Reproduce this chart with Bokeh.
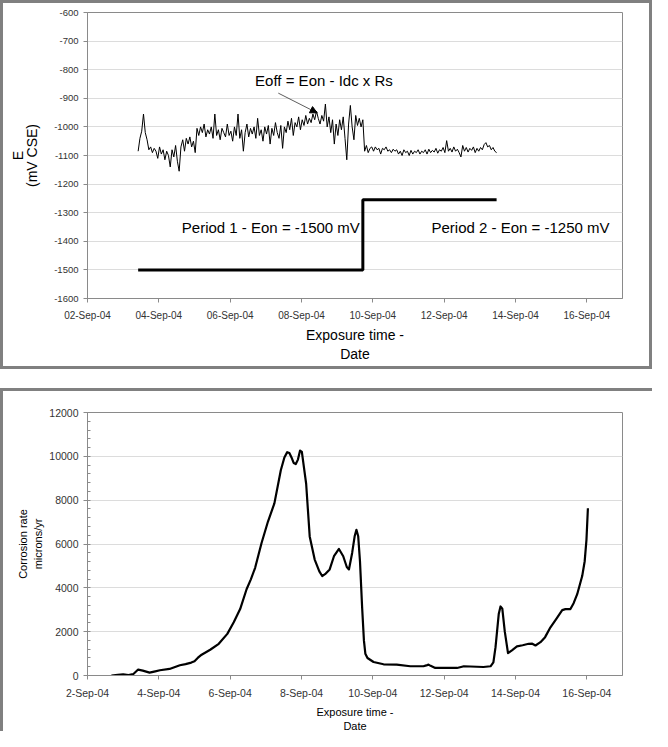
import numpy as np
from bokeh.plotting import figure
from bokeh.layouts import column
from bokeh.models import FixedTicker, Label, Arrow, NormalHead, LinearAxis
from bokeh.embed import file_html
from bokeh.resources import INLINE

FONT = "Liberation Sans"

# ---------------- data ----------------
# x values are days of September 2004
x_tick_days = [2, 4, 6, 8, 10, 12, 14, 16]
top_x_labels = ["02-Sep-04", "04-Sep-04", "06-Sep-04", "08-Sep-04",
                "10-Sep-04", "12-Sep-04", "14-Sep-04", "16-Sep-04"]
bottom_x_labels = ["2-Sep-04", "4-Sep-04", "6-Sep-04", "8-Sep-04",
                   "10-Sep-04", "12-Sep-04", "14-Sep-04", "16-Sep-04"]
top_y_ticks = [-1600, -1500, -1400, -1300, -1200, -1100, -1000, -900, -800, -700, -600]
bottom_y_ticks = [0, 2000, 4000, 6000, 8000, 10000, 12000]

# Eoff (mV CSE), sampled every 0.05 day starting 3.42 Sep
eoff_start_day = 3.42
eoff_step_day = 0.05
eoff_mv = [
    -1085, -1040, -1015, -955, -1020, -1045, -1080, -1070, -1090, -1075,
    -1085, -1110, -1070, -1095, -1080, -1115, -1085, -1100, -1140, -1080,
    -1105, -1065, -1120, -1155, -1070, -1045, -1085, -1040, -1060, -1035,
    -1070, -1050, -1090, -1005, -1030, -1000, -1020, -990, -1035, -1010,
    -1025, -1000, -1040, -955, -1030, -1010, -1045, -1005, -1020, -1035,
    -990, -1030, -1015, -1050, -1000, -1030, -955, -1040, -1010, -1085,
    -1020, -990, -1035, -1005, -1025, -1000, -1040, -970, -1030, -1010,
    -1050, -1000, -1025, -995, -1060, -1005, -1030, -985, -1020, -1040,
    -995, -1075, -1000, -1020, -980, -1010, -970, -1030, -985, -1000,
    -965, -1010, -975, -995, -960, -990, -970, -985, -955, -975,
    -945, -970, -990, -960, -980, -920, -1000, -965, -1020, -975,
    -1060, -990, -1030, -975, -1010, -965, -1040, -1115, -990, -925,
    -1000, -1045, -960, -995, -970, -1000, -975, -1085, -1065, -1090,
    -1075, -1070, -1085, -1070, -1080, -1075, -1095, -1075, -1080, -1070,
    -1085, -1080, -1090, -1078, -1085, -1080, -1095, -1085, -1100, -1080,
    -1090, -1085, -1100, -1082, -1095, -1085, -1090, -1080, -1095, -1085,
    -1090, -1080, -1095, -1078, -1090, -1082, -1088, -1075, -1092, -1080,
    -1085, -1072, -1090, -1048, -1085, -1075, -1088, -1070, -1085, -1078,
    -1090, -1105, -1065, -1085, -1072, -1088, -1075, -1082, -1070, -1090,
    -1075, -1085, -1072, -1080, -1062, -1055, -1070, -1065, -1080, -1072,
    -1085, -1090,
]
# Eon applied potential (mV CSE)
eon_days = [3.42, 9.72, 9.72, 13.47]
eon_mv = [-1500, -1500, -1255, -1255]

# Corrosion rate (microns/yr)
rate_days = [
    2.67, 2.85, 3.0, 3.15, 3.28, 3.42, 3.55, 3.74, 3.9, 4.03,
    4.3, 4.59, 4.75, 4.91, 5.0, 5.09, 5.2, 5.44, 5.68, 5.92,
    6.1, 6.28, 6.46, 6.58, 6.7, 6.88, 7.06, 7.24, 7.42, 7.52,
    7.6, 7.66, 7.72, 7.78, 7.84, 7.9, 7.96, 8.01, 8.06, 8.13,
    8.23, 8.37, 8.5, 8.58, 8.68, 8.79, 8.91, 9.05, 9.17, 9.27,
    9.33, 9.42, 9.49, 9.54, 9.59, 9.64, 9.7, 9.75, 9.79, 9.85,
    10.02, 10.3, 10.67, 11.05, 11.42, 11.5, 11.56, 11.62, 11.75, 12.0,
    12.36, 12.5, 12.55, 13.1, 13.3, 13.38, 13.44, 13.53, 13.58, 13.63,
    13.7, 13.79, 13.9, 14.04, 14.2, 14.37, 14.47, 14.56, 14.7, 14.83,
    14.98, 15.15, 15.31, 15.4, 15.54, 15.63, 15.73, 15.87, 15.94, 15.99,
    16.03,
]
rate_um_yr = [
    0, 30, 50, 20, 60, 271, 220, 130, 190, 240,
    300, 466, 520, 590, 650, 800, 950, 1176, 1447, 1899,
    2427, 3030, 3935, 4387, 4915, 6045, 7025, 7854, 9362, 9950,
    10191, 10150, 9950, 9700, 9650, 9850, 10266, 10200, 9600, 8759,
    6347, 5291, 4750, 4538, 4650, 4839, 5442, 5774, 5442, 4950,
    4839, 5593, 6350, 6648, 6350, 5200, 3100, 1600, 995, 800,
    615, 511, 497, 421, 421, 460, 497, 440, 344, 344,
    344, 400, 421, 389, 421, 600, 1294, 2804, 3150, 3050,
    2000, 1023, 1150, 1326, 1380, 1447, 1450, 1370, 1520, 1750,
    2200, 2600, 2985, 3030, 3030, 3300, 3709, 4537, 5215, 6200,
    7630,
]

eoff_days = eoff_start_day + eoff_step_day * np.arange(len(eoff_mv))

GRID = "#dcdcdc"
AXIS = "#8a8a8a"
TICKTXT = "#333333"
PANEL_BORDER = "3px solid #808080"


def style_axes(p, xlabels, y_ticks, xfont, yfont, xstand, ystand, tick_out):
    p.xaxis.ticker = FixedTicker(ticks=x_tick_days)
    p.xaxis.major_label_overrides = {d: s for d, s in zip(x_tick_days, xlabels)}
    for ax in (p.xaxis[0], p.yaxis[0]):
        ax.axis_line_color = AXIS
        ax.major_tick_line_color = AXIS
        ax.minor_tick_line_color = AXIS
        ax.major_tick_out = tick_out
        ax.major_tick_in = 0
        ax.minor_tick_out = 0
        ax.minor_tick_in = 0
        ax.major_label_text_font = FONT
        ax.major_label_text_color = TICKTXT
        ax.axis_label_text_font = FONT
        ax.axis_label_text_font_style = "normal"
        ax.axis_label_text_color = "black"
    p.xaxis.major_label_text_font_size = xfont
    p.yaxis.major_label_text_font_size = yfont
    p.xaxis.major_label_standoff = xstand
    p.yaxis.major_label_standoff = ystand
    p.yaxis.major_label_overrides = {v: str(v) for v in y_ticks}
    p.xgrid.visible = False
    p.ygrid.grid_line_color = GRID
    p.outline_line_color = AXIS
    p.outline_line_width = 1


def title_axis(p, side, text, size, standoff):
    """An extra, tick-less axis that only carries one line of an axis title."""
    ax = LinearAxis(ticker=FixedTicker(ticks=[]), axis_line_color=None,
                    major_tick_line_color=None, minor_tick_line_color=None,
                    major_tick_out=0, major_tick_in=0, minor_tick_out=0,
                    minor_tick_in=0, major_label_standoff=0,
                    major_label_text_font_size="0px",
                    axis_label=text, axis_label_standoff=standoff,
                    axis_label_text_font=FONT, axis_label_text_font_size=size,
                    axis_label_text_font_style="normal",
                    axis_label_text_color="black")
    p.add_layout(ax, side)


def add_text(p, x, y, text, size):
    p.add_layout(Label(x=x, y=y, text=text, text_font=FONT, text_font_size=size,
                       text_align="center", text_baseline="middle",
                       text_color="black"))


# ---------------- top panel ----------------
top = figure(width=646, height=363, x_range=(2, 17), y_range=(-1600, -600),
             output_backend="svg", toolbar_location=None, title=None,
             min_border_left=81, min_border_right=25, min_border_top=9,
             min_border_bottom=74,
             styles={"border": PANEL_BORDER, "box-sizing": "content-box"})
top.yaxis.ticker = FixedTicker(ticks=top_y_ticks)
style_axes(top, top_x_labels, top_y_ticks, "10px", "9.5px", 7, 5, 4)
top.yaxis.axis_label = "(mV CSE)"
top.yaxis.axis_label_text_font_size = "14px"
top.yaxis.axis_label_standoff = 11
top.xaxis.axis_label = "Exposure time -"
top.xaxis.axis_label_text_font_size = "14px"
top.xaxis.axis_label_standoff = 3
title_axis(top, "left", "E", "14px", -4)
title_axis(top, "below", "Date", "14px", 0)

top.line(eoff_days, eoff_mv, line_color="black", line_width=1)
top.line(eon_days, eon_mv, line_color="black", line_width=3)

add_text(top, 8.63, -839, "Eoff = Eon - Idc x Rs", "15px")
add_text(top, 7.14, -1350, "Period 1 - Eon = -1500 mV", "15px")
add_text(top, 14.14, -1350, "Period 2 - Eon = -1250 mV", "15px")
top.add_layout(Arrow(end=NormalHead(size=7, fill_color="black", line_color="black"),
                     x_start=7.35, y_start=-882, x_end=8.44, y_end=-951,
                     line_color="#333333", line_width=0.8))

# ---------------- bottom panel ----------------
bottom = figure(width=649, height=340, x_range=(2, 17), y_range=(0, 12000),
                output_backend="svg", toolbar_location=None, title=None,
                min_border_left=84, min_border_right=33, min_border_top=21,
                min_border_bottom=54,
                styles={"border-top": PANEL_BORDER, "border-left": PANEL_BORDER,
                        "box-sizing": "content-box"})
bottom.yaxis.ticker = FixedTicker(ticks=bottom_y_ticks,
                                  minor_ticks=list(range(0, 12001, 400)))
style_axes(bottom, bottom_x_labels, bottom_y_ticks, "10.5px", "10.5px", 7, 5, 4)
bottom.yaxis.minor_tick_in = 3
bottom.ygrid.ticker = FixedTicker(ticks=bottom_y_ticks)
bottom.yaxis.axis_label = "microns/yr"
bottom.yaxis.axis_label_text_font_size = "11px"
bottom.yaxis.axis_label_standoff = 2
bottom.xaxis.axis_label = "Exposure time -"
bottom.xaxis.axis_label_text_font_size = "11px"
bottom.xaxis.axis_label_standoff = 4
title_axis(bottom, "left", "Corrosion rate", "11px", 1)
title_axis(bottom, "below", "Date", "11px", -1)

bottom.line(rate_days, rate_um_yr, line_color="black", line_width=2.2,
            line_join="round")

layout = column(top, bottom, spacing=19)
open("out.html", "w").write(file_html(layout, INLINE))
